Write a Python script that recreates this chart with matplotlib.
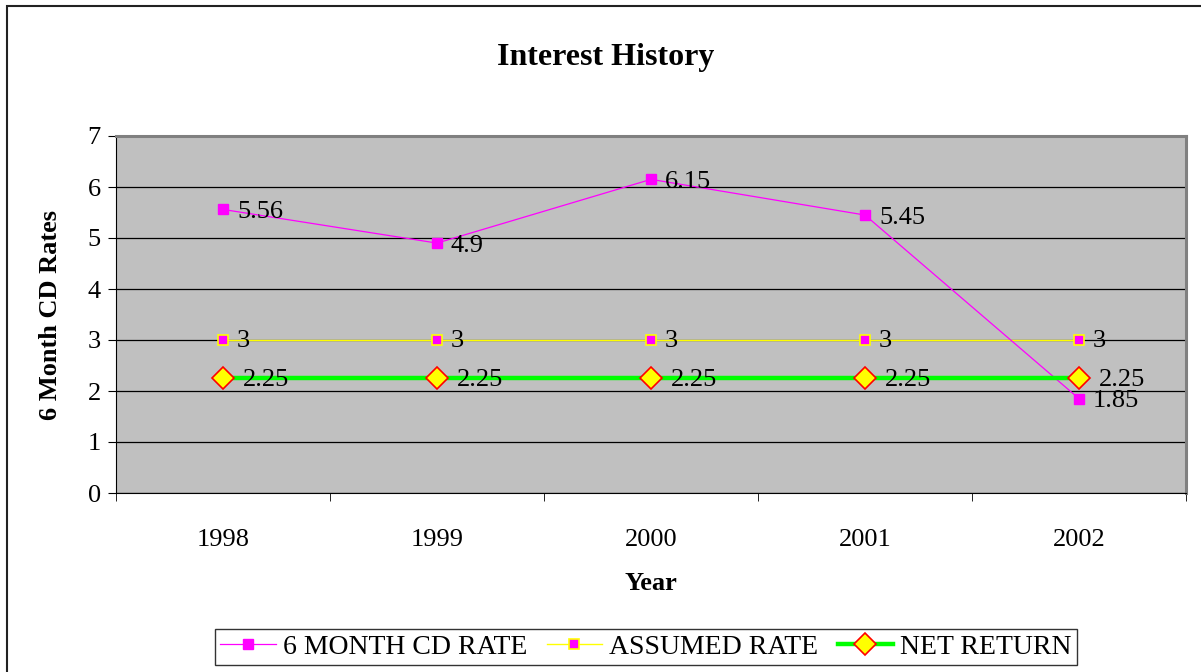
import matplotlib
matplotlib.use("Agg")
import matplotlib.pyplot as plt
from matplotlib.patches import Rectangle

years = ["1998", "1999", "2000", "2001", "2002"]
cd_rate = [5.56, 4.9, 6.15, 5.45, 1.85]
assumed_rate = [3, 3, 3, 3, 3]
net_return = [2.25, 2.25, 2.25, 2.25, 2.25]

plt.rcParams['font.family'] = ['Liberation Serif', 'DejaVu Serif']

fig = plt.figure(figsize=(12.01, 6.72), dpi=100)
# outer chart border (runs off right/bottom edge like the original)
fig.patches.append(Rectangle((7 / 1201, -0.05), 1.2, (672 - 6) / 672 + 0.05,
                             transform=fig.transFigure, fill=False,
                             edgecolor='#222222', lw=1.5))

ax = fig.add_axes([116 / 1201, 1 - 493 / 672, 1070 / 1201, 357 / 672])
ax.set_facecolor('#c0c0c0')

x = list(range(len(years)))
ax.plot(x, cd_rate, color='#ff00ff', lw=0.9, marker='s', ms=7,
        mfc='#ff00ff', mec='#ff00ff', label='6 MONTH CD RATE', zorder=4)
ax.plot(x, assumed_rate, color='#ffff00', lw=1, marker='s', ms=6.5,
        mfc='#ff00ff', mec='#ffff00', mew=1.2, label='ASSUMED RATE', zorder=3)
ax.plot(x, net_return, color='#00ff00', lw=3.2, marker='D', ms=11.5,
        mfc='#ffff00', mec='#ff0000', mew=1.2, label='NET RETURN', zorder=5)

# data labels
for xi, v in zip(x, cd_rate):
    ax.annotate(f"{v:g}", (xi, v), xytext=(10, -2), textcoords='offset points',
                va='center', ha='left', fontsize=19, zorder=6)
for xi, v in zip(x, assumed_rate):
    ax.annotate(f"{v:g}", (xi, v), xytext=(10, -1), textcoords='offset points',
                va='center', ha='left', fontsize=19, zorder=6)
for xi, v in zip(x, net_return):
    ax.annotate(f"{v:g}", (xi, v), xytext=(14, -1), textcoords='offset points',
                va='center', ha='left', fontsize=19, zorder=6)

ax.set_xlim(-0.5, len(years) - 0.5)
ax.set_ylim(0, 7)
ax.set_yticks(range(0, 8))
ax.yaxis.grid(True, color='black', lw=0.9)
ax.set_axisbelow(True)

ax.set_xticks(x)
ax.set_xticklabels(years, fontsize=19)
ax.set_xticks([i - 0.5 for i in range(len(years) + 1)], minor=True)
ax.tick_params(axis='x', which='major', length=0, pad=26)
ax.tick_params(axis='x', which='minor', length=6, direction='out', color='black')
ax.tick_params(axis='y', length=6, direction='out', labelsize=19, pad=5)

for s in ['top', 'right']:
    ax.spines[s].set_color('#808080')
    ax.spines[s].set_linewidth(2.2)
ax.spines['left'].set_color('black')
ax.spines['bottom'].set_color('black')

ax.set_xlabel('Year', fontsize=19, fontweight='bold')
ax.xaxis.set_label_coords(0.5, -(583 - 493) / 357)
ax.xaxis.label.set_va('center')
ax.set_ylabel('6 Month CD Rates', fontsize=19, fontweight='bold')
ax.yaxis.set_label_coords(-(116 - 51) / 1070, 0.5)
ax.yaxis.label.set_va('center')
fig.text(606 / 1201, 1 - 57 / 672, 'Interest History', ha='center', va='center',
         fontsize=23, fontweight='bold')

leg = fig.legend(loc='center', bbox_to_anchor=(646 / 1201, 1 - 647 / 672),
                 ncol=3, fontsize=20, frameon=True, fancybox=False,
                 edgecolor='black', handlelength=2.0, handletextpad=0.25,
                 columnspacing=0.7, borderpad=0.2, borderaxespad=0)
leg.get_frame().set_linewidth(1)

fig.savefig('out.png', dpi=100)
